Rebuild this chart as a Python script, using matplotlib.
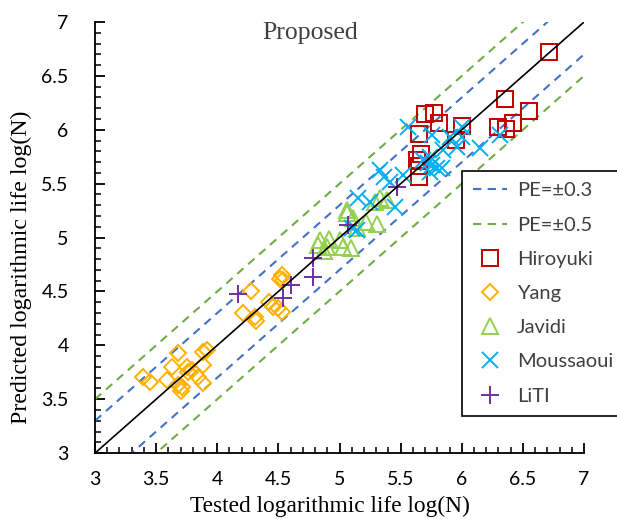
import numpy as np
import matplotlib.pyplot as plt
from matplotlib.ticker import MultipleLocator, FormatStrFormatter

# tested (x) vs predicted (y) log life
hiro_x = [6.71, 6.35, 6.55, 5.70, 5.77, 5.81, 5.65, 6.00, 5.95, 6.30, 6.42, 6.36, 5.67, 5.63, 5.65, 5.65]
hiro_y = [6.72, 6.29, 6.17, 6.15, 6.16, 6.06, 5.96, 6.04, 5.91, 6.03, 6.06, 6.01, 5.78, 5.72, 5.66, 5.56]

yang_x = [4.53, 4.51, 4.54, 4.28, 4.21, 4.31, 4.32, 4.42, 4.46, 4.50, 4.53,
          3.68, 3.88, 3.92, 3.63, 3.75, 3.79, 3.88, 3.39, 3.45, 3.59, 3.68, 3.70, 3.71, 3.84, 3.88, 3.76]
yang_y = [4.65, 4.62, 4.61, 4.50, 4.30, 4.26, 4.23, 4.40, 4.36, 4.35, 4.31,
          3.93, 3.94, 3.96, 3.80, 3.80, 3.77, 3.82, 3.71, 3.66, 3.68, 3.63, 3.58, 3.61, 3.71, 3.65, 3.75]

javidi_x = [5.06, 5.11, 5.33, 5.39, 5.31, 5.22, 5.14, 4.84, 4.91, 5.00, 4.82, 4.90, 5.03, 5.09, 4.87, 5.06, 5.29]
javidi_y = [5.23, 5.18, 5.37, 5.35, 5.13, 5.14, 5.09, 4.98, 4.99, 4.98, 4.93, 4.91, 4.91, 4.90, 4.88, 5.26, 5.33]

mous_x = [5.56, 5.76, 5.90, 6.00, 6.00, 6.15, 6.31, 5.96, 5.85, 5.68, 5.76, 5.84, 5.74, 5.52,
          5.36, 5.41, 5.15, 5.25, 5.45, 5.10, 5.14, 5.72, 5.80, 5.74, 5.33]
mous_y = [6.03, 5.95, 5.93, 6.03, 5.93, 5.83, 5.95, 5.84, 5.81, 5.72, 5.67, 5.65, 5.61, 5.58,
          5.56, 5.52, 5.37, 5.33, 5.28, 5.09, 5.07, 5.69, 5.65, 5.75, 5.63]

liti_x = [5.47, 5.07, 4.78, 4.78, 4.17, 4.60, 4.54]
liti_y = [5.47, 5.12, 4.81, 4.63, 4.48, 4.56, 4.44]

lim = [3, 7]

fig = plt.figure(figsize=(6.17, 5.19), dpi=100)
ax = fig.add_axes([0.154, 0.127, 0.7925, 0.8305])

ref = np.array(lim)
ax.plot(ref, ref, color='black', lw=1.2, zorder=3)
ax.plot(ref, ref + 0.3, color='#4472C4', ls=(0, (4, 3)), lw=1.5, label='PE=\u00b10.3')
ax.plot(ref, ref - 0.3, color='#4472C4', ls=(0, (4, 3)), lw=1.5)
ax.plot(ref, ref + 0.5, color='#70AD47', ls=(0, (4, 3)), lw=1.5, label='PE=\u00b10.5')
ax.plot(ref, ref - 0.5, color='#70AD47', ls=(0, (4, 3)), lw=1.5)

ax.plot(hiro_x, hiro_y, ls='none', marker='s', ms=11, mfc='none', mec='#C00000', mew=1.4, label='Hiroyuki')
ax.plot(yang_x, yang_y, ls='none', marker='D', ms=8.5, mfc='none', mec='#FFB000', mew=1.4, label='Yang')
ax.plot(javidi_x, javidi_y, ls='none', marker='^', ms=12, mfc='none', mec='#92D050', mew=1.4, label='Javidi')
ax.plot(mous_x, mous_y, ls='none', marker='x', ms=12, color='#00B0F0', mew=1.4, label='Moussaoui')
ax.plot(liti_x, liti_y, ls='none', marker='+', ms=13, color='#7030A0', mew=1.4, label='LiTI')

ax.set_xlim(lim)
ax.set_ylim(lim)
for s in ['top', 'right']:
    ax.spines[s].set_visible(False)
for s in ['left', 'bottom']:
    ax.spines[s].set_linewidth(1.3)

ax.xaxis.set_major_locator(MultipleLocator(0.5))
ax.yaxis.set_major_locator(MultipleLocator(0.5))
ax.xaxis.set_minor_locator(MultipleLocator(0.1))
ax.yaxis.set_minor_locator(MultipleLocator(0.1))
ax.xaxis.set_major_formatter(FormatStrFormatter('%g'))
ax.yaxis.set_major_formatter(FormatStrFormatter('%g'))
ax.tick_params(which='major', direction='in', length=7, width=1.3, labelsize=14)
ax.tick_params(axis='x', which='major', pad=13)
ax.tick_params(axis='y', which='major', pad=19)
ax.tick_params(which='minor', direction='in', length=4, width=1.1)
for t in ax.get_xticklabels() + ax.get_yticklabels():
    t.set_family('Lato')

ax.set_xlabel('Tested logarithmic life log(N)', family='Liberation Serif', fontsize=16.8)
ax.xaxis.set_label_coords(0.48, -0.1)
ax.set_ylabel('Predicted logarithmic life log(N)', family='Liberation Serif', fontsize=17.2)
ax.yaxis.set_label_coords(-0.128, 0.43)
ax.text(4.76, 6.9, 'Proposed', family='Liberation Serif', fontsize=18.5, color='#404040', ha='center', va='center')

leg = ax.legend(loc='upper left', bbox_to_anchor=(0.75, 0.654), borderaxespad=0, fancybox=False,
                edgecolor='black', prop={'family': ['Lato', 'DejaVu Sans'], 'size': 14.5},
                labelspacing=0.85, handlelength=1.7, handletextpad=0.5, borderpad=0.55, framealpha=1)
leg.get_frame().set_linewidth(1.2)
for t in leg.get_texts():
    t.set_color('#404040')

fig.savefig('out.png', dpi=100)
